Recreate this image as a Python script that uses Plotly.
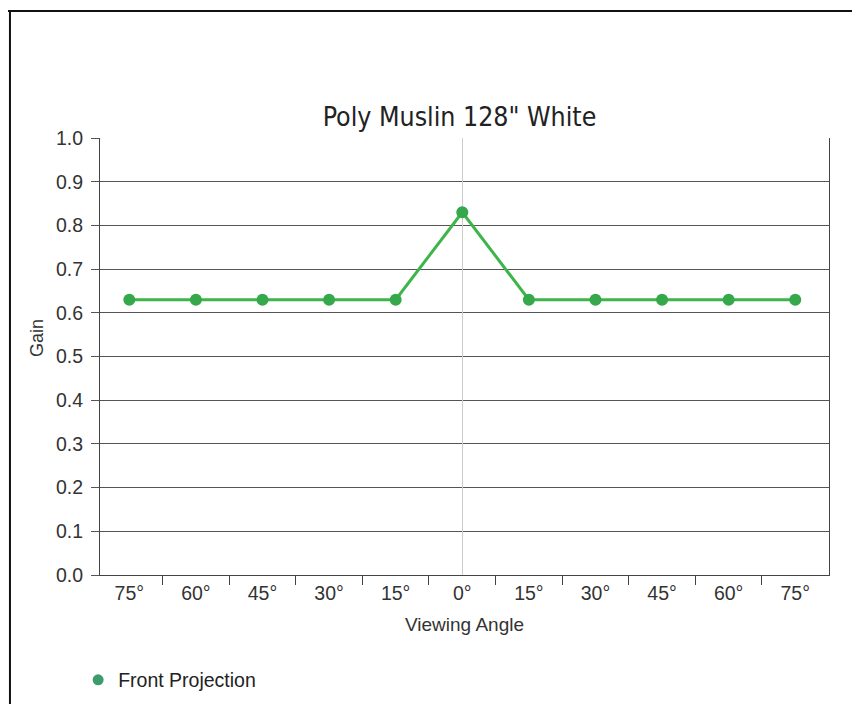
import plotly.graph_objects as go

angles = [-75, -60, -45, -30, -15, 0, 15, 30, 45, 60, 75]
tick_labels = ["75°", "60°", "45°", "30°", "15°", "0°", "15°", "30°", "45°", "60°", "75°"]
gain = [0.63, 0.63, 0.63, 0.63, 0.63, 0.83, 0.63, 0.63, 0.63, 0.63, 0.63]
series_name = "Front Projection"
y_title = "Gain"
x_title = "Viewing Angle"
boundaries = [-67.5, -52.5, -37.5, -22.5, -7.5, 7.5, 22.5, 37.5, 52.5, 67.5]

fig = go.Figure()
fig.add_trace(go.Scatter(
    x=angles, y=gain, mode="lines+markers", showlegend=False, name=series_name,
    line=dict(color="#3db54a", width=3),
    marker=dict(color="#34a84a", size=12),
))
fig.add_trace(go.Scatter(
    x=[None], y=[None], mode="markers", name=series_name,
    marker=dict(color="#3d9c6b", size=11),
))

font_main = "Liberation Sans, Arial, sans-serif"
fig.update_layout(
    width=860, height=704,
    margin=dict(l=92, r=39, t=130, b=134),
    paper_bgcolor="white", plot_bgcolor="white",
    title=dict(text='Poly Muslin 128" White', x=0.525, xanchor="center", y=0.845, yanchor="middle",
               font=dict(family="Liberation Sans Narrow, DejaVu Sans Condensed, Arial Narrow, sans-serif",
                         size=26.5, color="#222")),
    font=dict(family=font_main, color="#333"),
    showlegend=True,
    legend=dict(x=-0.03, y=-0.196, xanchor="left", yanchor="top", orientation="h",
                font=dict(size=19.5, color="#222"), itemwidth=30),
    annotations=[
        dict(text=y_title, xref="paper", yref="paper", x=-0.0864, y=0.5425,
             xanchor="center", yanchor="middle", textangle=-90, showarrow=False,
             font=dict(size=18, color="#333")),
    ],
    shapes=[
        dict(type="line", xref="paper", yref="paper", x0=-0.1235, x1=-0.1235, y0=1.29, y1=-0.35,
             line=dict(color="#111", width=2)),
        dict(type="line", xref="paper", yref="paper", x0=-0.13, x1=1.1, y0=1.2905, y1=1.2905,
             line=dict(color="#111", width=2)),
    ],
)
fig.update_xaxes(
    range=[-81.6, 82.6], tickmode="array", tickvals=angles, ticktext=tick_labels,
    ticks="", showgrid=False, zeroline=True, zerolinecolor="#cccccc", zerolinewidth=1,
    showline=True, linecolor="#444", linewidth=1,
    tickfont=dict(size=19.5, color="#333"), ticklabelstandoff=1,
    minor=dict(tickmode="array", tickvals=boundaries,
               ticks="outside", ticklen=9, tickcolor="#444", tickwidth=1, showgrid=False),
    title=dict(text=x_title, font=dict(size=19, color="#333"), standoff=14),
)
fig.update_yaxes(
    range=[0, 1.0], dtick=0.1, tickformat=".1f",
    showgrid=True, gridcolor="#555", gridwidth=1,
    ticks="outside", ticklen=8, tickcolor="#555",
    showline=True, linecolor="#444", linewidth=1, mirror=True,
    zeroline=False,
    tickfont=dict(size=19.5, color="#333"), ticklabelstandoff=4,
)

fig.write_html("out.html")
